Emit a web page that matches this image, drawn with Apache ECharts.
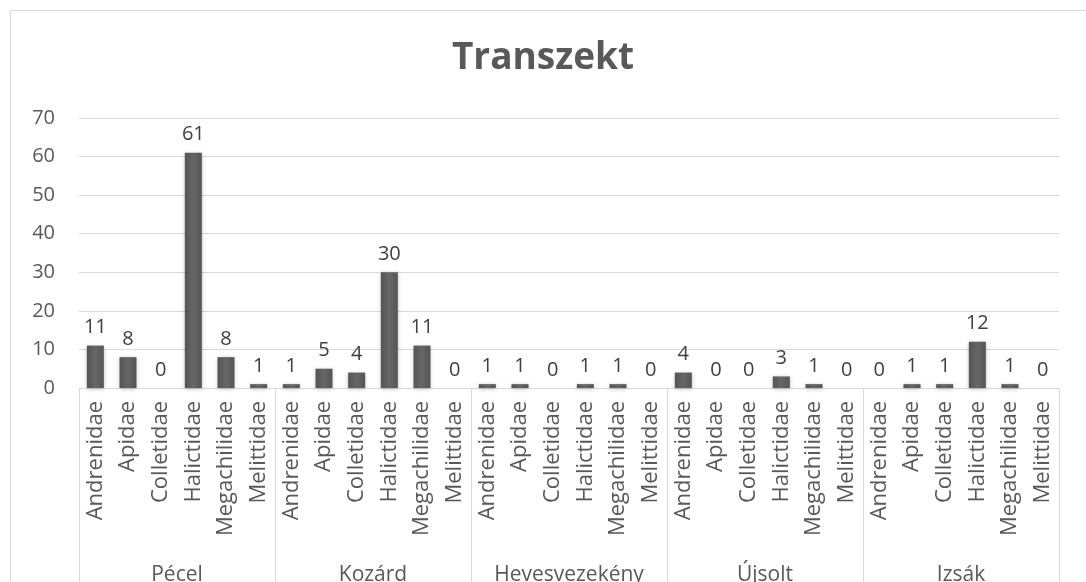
<!DOCTYPE html>
<html>
<head>
<meta charset="utf-8" />
<title>Transzekt</title>
<script src="https://cdn.jsdelivr.net/npm/echarts@6/dist/echarts.min.js"></script>
</head>
<body style="margin:0;background:#fff;">
<div id="content" style="width:1086px;height:582px;"></div>
<script>
var sites = ['Pécel', 'Kozárd', 'Hevesvezekény', 'Újsolt', 'Izsák'];
var families = ['Andrenidae', 'Apidae', 'Colletidae', 'Halictidae', 'Megachilidae', 'Melittidae'];
var pecel = [11, 8, 0, 61, 8, 1];
var kozard = [1, 5, 4, 30, 11, 0];
var heves = [1, 1, 0, 1, 1, 0];
var ujsolt = [4, 0, 0, 3, 1, 0];
var izsak = [0, 1, 1, 12, 1, 0];
var yTicks = [0, 10, 20, 30, 40, 50, 60, 70];

var cats = [];
var values = [];
[pecel, kozard, heves, ujsolt, izsak].forEach(function (arr) {
	arr.forEach(function (v, i) {
		cats.push(families[i]);
		values.push(v);
	});
});

var myChart = echarts.init(document.getElementById('content'));
var font = '"Open Sans", "Noto Sans", sans-serif';

myChart.setOption({
	animation: false,
	textStyle: { fontFamily: font },
	graphic: [{
		type: 'rect',
		shape: { x: 10.5, y: 10.5, width: 1100, height: 600 },
		style: { fill: 'none', stroke: '#d9d9d9', lineWidth: 1 },
		silent: true
	}],
	title: {
		text: 'Transzekt',
		left: 'center',
		top: 35,
		textStyle: { fontSize: 37, fontWeight: 'bold', color: '#595959', fontFamily: font }
	},
	grid: { left: 79, right: 27, top: 118, bottom: 194, outerBoundsMode: 'none', containLabel: false },
	xAxis: [{
		type: 'category',
		data: cats,
		axisLine: { lineStyle: { color: '#d9d9d9' } },
		axisTick: { show: false },
		axisLabel: {
			interval: 0,
			rotate: 90,
			margin: 13,
			fontSize: 22,
			color: '#595959',
			fontFamily: font
		}
	}, {
		type: 'category',
		data: sites,
		position: 'bottom',
		axisLine: { show: false },
		axisTick: { show: true, inside: false, length: 200, lineStyle: { color: '#d9d9d9' } },
		axisLabel: {
			interval: 0,
			margin: 177,
			fontSize: 21,
			color: '#595959',
			fontFamily: font
		}
	}],
	yAxis: {
		type: 'value',
		min: 0,
		max: yTicks[yTicks.length - 1],
		interval: 10,
		axisLine: { show: false },
		axisTick: { show: false },
		splitLine: { lineStyle: { color: '#d9d9d9' } },
		axisLabel: { fontSize: 20, color: '#595959', margin: 24, fontFamily: font }
	},
	series: [{
		type: 'bar',
		xAxisIndex: 0,
		data: values,
		barWidth: '52%',
		itemStyle: {
			color: new echarts.graphic.LinearGradient(0, 0, 1, 0, [
				{ offset: 0, color: '#555555' },
				{ offset: 0.5, color: '#666666' },
				{ offset: 1, color: '#555555' }
			]),
			shadowColor: 'rgba(0,0,0,0.25)',
			shadowBlur: 4,
			shadowOffsetY: 1
		},
		label: {
			show: true,
			position: 'top',
			distance: 8,
			fontSize: 20,
			color: '#404040',
			fontFamily: font
		}
	}]
});
</script>
</body>
</html>
